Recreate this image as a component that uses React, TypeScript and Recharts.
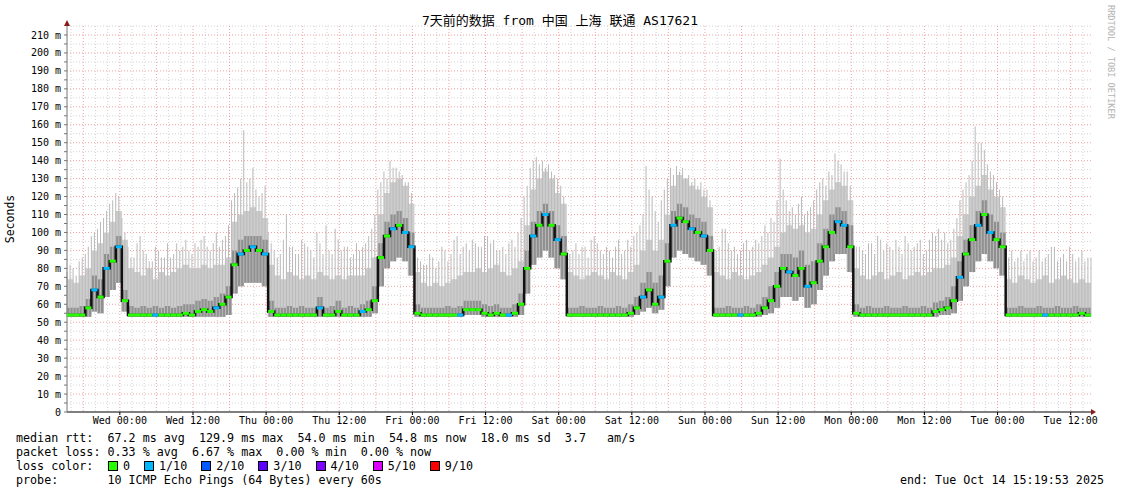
import React from 'react';
import { ComposedChart, Area, Bar, Line, XAxis, YAxis, CartesianGrid } from 'recharts';

const MONO = "'DejaVu Sans Mono', 'Noto Sans CJK SC', monospace";

// hourly samples (ms), hour 0 = Tue Oct 7 15:19:53
const median = [
  54, 54, 54, 58, 68, 64, 80, 84, 92, 62, 54, 54, 54, 54, 54, 54, 54, 54, 54, 55, 54, 56, 57, 56,
  58, 60, 64, 82, 88, 90, 92, 90, 88, 56, 54, 54, 54, 54, 54, 54, 54, 58, 54, 54, 56, 54, 54, 54,
  56, 57, 62, 86, 98, 102, 104, 100, 92, 55, 54, 54, 54, 54, 54, 54, 54, 57, 57, 57, 55, 54, 55, 54,
  54, 55, 60, 80, 98, 104, 110, 104, 96, 88, 54, 54, 54, 54, 54, 54, 54, 54, 54, 54, 55, 58, 64, 68,
  60, 64, 84, 104, 108, 106, 102, 100, 98, 90, 54, 54, 54, 54, 54, 54, 54, 55, 58, 62, 70, 80, 78, 76,
  80, 70, 72, 84, 92, 100, 106, 104, 92, 55, 54, 54, 54, 54, 54, 54, 54, 54, 54, 54, 54, 54, 56, 57,
  58, 62, 75, 88, 96, 104, 110, 100, 96, 92, 54, 54, 54, 54, 54, 54, 54, 54, 54, 54, 54, 54, 55, 54,
];
const smokeLow = [
  53, 53, 53, 53, 56, 55, 64, 68, 72, 56, 53, 53, 53, 53, 53, 53, 53, 53, 53, 53, 53, 53, 53, 53,
  53, 53, 54, 66, 70, 72, 72, 72, 70, 53, 53, 53, 53, 53, 53, 53, 53, 53, 53, 53, 53, 53, 53, 53,
  53, 53, 55, 70, 80, 84, 86, 84, 76, 53, 53, 53, 53, 53, 53, 53, 53, 54, 54, 54, 53, 53, 53, 53,
  53, 53, 54, 66, 82, 86, 90, 86, 80, 74, 53, 53, 53, 53, 53, 53, 53, 53, 53, 53, 53, 54, 56, 58,
  55, 57, 70, 86, 90, 88, 86, 84, 82, 76, 53, 53, 53, 53, 53, 53, 53, 53, 54, 55, 58, 64, 64, 62,
  64, 58, 60, 68, 76, 84, 88, 88, 78, 53, 53, 53, 53, 53, 53, 53, 53, 53, 53, 53, 53, 53, 53, 54,
  54, 55, 62, 70, 78, 84, 88, 84, 80, 76, 53, 53, 53, 53, 53, 53, 53, 53, 53, 53, 53, 53, 53, 53,
];
const smokeMid = [
  58, 58, 59, 63, 76, 74, 88, 92, 98, 68, 59, 58, 59, 58, 59, 58, 59, 58, 59, 60, 60, 62, 63, 62,
  64, 66, 70, 90, 96, 98, 98, 98, 96, 62, 58, 58, 59, 58, 59, 58, 58, 64, 58, 59, 62, 58, 59, 58,
  60, 62, 70, 94, 106, 110, 112, 108, 100, 60, 58, 58, 58, 58, 59, 58, 59, 62, 62, 62, 60, 59, 60, 58,
  58, 60, 66, 90, 106, 112, 116, 112, 104, 98, 58, 58, 59, 58, 58, 59, 58, 58, 59, 58, 60, 64, 72, 78,
  72, 76, 94, 112, 116, 114, 110, 108, 106, 98, 58, 58, 59, 58, 58, 59, 58, 60, 64, 70, 78, 88, 88, 86,
  90, 82, 84, 94, 102, 110, 114, 112, 104, 60, 58, 59, 58, 58, 59, 58, 58, 59, 58, 58, 59, 58, 61, 62,
  64, 70, 84, 96, 104, 112, 118, 110, 106, 100, 58, 58, 59, 58, 58, 59, 58, 58, 59, 58, 58, 59, 58, 58,
];
const smokeHigh = [
  74, 72, 76, 80, 90, 94, 100, 106, 112, 96, 80, 78, 76, 80, 74, 78, 76, 78, 80, 82, 80, 80, 82, 80,
  82, 82, 86, 106, 110, 112, 114, 112, 108, 82, 76, 74, 78, 76, 74, 76, 74, 78, 76, 74, 76, 74, 76, 76,
  76, 80, 86, 110, 122, 128, 130, 126, 116, 78, 72, 70, 72, 70, 72, 74, 76, 78, 78, 80, 78, 80, 82, 78,
  76, 80, 84, 104, 124, 130, 134, 130, 122, 116, 78, 76, 74, 76, 78, 76, 74, 78, 76, 74, 78, 82, 90, 96,
  90, 96, 110, 126, 132, 130, 126, 124, 120, 114, 78, 76, 74, 78, 76, 74, 76, 78, 82, 86, 92, 100, 104, 102,
  104, 100, 102, 110, 118, 124, 128, 126, 118, 80, 76, 74, 76, 78, 74, 76, 78, 74, 76, 78, 76, 78, 80, 80,
  82, 86, 98, 110, 120, 126, 132, 124, 120, 114, 74, 72, 76, 74, 72, 74, 76, 72, 74, 76, 74, 72, 74, 72,
];
// tallest single ping, on the hour and on the half hour
const smokeSpike = [
  78, 80, 84, 88, 98, 102, 108, 116, 122, 108, 92, 86, 98, 88, 84, 90, 86, 86, 94, 92, 90, 94, 96, 92,
  94, 92, 98, 118, 125, 157, 130, 124, 122, 100, 90, 88, 110, 92, 88, 94, 90, 100, 88, 90, 102, 90, 92, 88,
  90, 94, 102, 124, 134, 140, 136, 132, 128, 90, 84, 82, 86, 84, 90, 88, 98, 92, 90, 94, 92, 98, 96, 90,
  88, 96, 100, 120, 136, 142, 140, 138, 132, 126, 92, 90, 88, 92, 96, 94, 88, 90, 92, 88, 96, 98, 104, 137,
  120, 106, 124, 136, 137, 136, 132, 130, 128, 124, 96, 92, 102, 90, 88, 94, 90, 96, 98, 100, 106, 141, 118, 114,
  116, 110, 114, 124, 130, 134, 144, 138, 134, 96, 92, 88, 94, 98, 90, 92, 96, 88, 94, 92, 96, 90, 100, 102,
  100, 96, 108, 124, 132, 159, 150, 138, 132, 124, 88, 90, 86, 84, 90, 86, 84, 88, 92, 86, 84, 88, 86, 84,
];
const smokeSpikeHalf = [
  82, 76, 86, 92, 100, 106, 112, 118, 120, 100, 86, 94, 90, 84, 92, 86, 94, 88, 90, 96, 88, 92, 98, 90,
  100, 96, 104, 122, 130, 128, 136, 120, 126, 94, 86, 96, 92, 88, 96, 92, 86, 94, 104, 88, 96, 92, 86, 94,
  92, 98, 110, 128, 130, 136, 134, 128, 122, 86, 82, 88, 80, 92, 84, 96, 88, 94, 96, 92, 98, 94, 90, 92,
  94, 92, 108, 126, 140, 138, 136, 134, 130, 120, 88, 94, 92, 86, 98, 90, 92, 86, 96, 90, 92, 100, 110, 124,
  112, 118, 130, 132, 134, 130, 128, 126, 124, 118, 90, 102, 94, 92, 90, 96, 92, 94, 104, 108, 118, 124, 112, 110,
  120, 112, 118, 128, 126, 132, 140, 134, 126, 92, 90, 94, 88, 96, 94, 90, 92, 98, 90, 94, 88, 96, 98, 96,
  94, 102, 118, 128, 140, 150, 146, 134, 128, 120, 86, 84, 90, 88, 84, 90, 86, 92, 84, 88, 92, 84, 90, 86,
];
// hours where 1/10 pings were lost
const lossHours = [4, 6, 8, 14, 24, 28, 30, 32, 41, 48, 53, 55, 56, 64, 72, 76, 78, 80, 94, 97, 99, 102, 104, 110, 118, 121, 126, 127, 146, 149, 151, 160];

const dayTicks = [
  'Wed 00:00', 'Wed 12:00', 'Thu 00:00', 'Thu 12:00', 'Fri 00:00', 'Fri 12:00', 'Sat 00:00',
  'Sat 12:00', 'Sun 00:00', 'Sun 12:00', 'Mon 00:00', 'Mon 12:00', 'Tue 00:00', 'Tue 12:00',
];
const firstMidnight = 8.668; // hours from start to Wed 00:00

const labelHours = dayTicks.map((_, i) => firstMidnight + 12 * i);
const yTicks = Array.from({ length: 43 }, (_, i) => i * 5);
const hMajor = Array.from({ length: 21 }, (_, i) => (i + 1) * 10);
const hMinor = Array.from({ length: 22 }, (_, i) => i * 10 + 5);
const vMajor = Array.from({ length: 28 }, (_, i) => firstMidnight - 6 + 6 * i);
const vMinor = Array.from({ length: 84 }, (_, i) => firstMidnight - 8 + 2 * i).filter(
  (h) => h > 0 && h < 168 && Math.round((h - firstMidnight) / 2) % 3 !== 0
);

// half-hour rows, hourly values repeated, spikes alternate
const rows: any[] = [];
median.forEach((m, i) => {
  [0, 1].forEach((half) => {
    rows.push({
      t: i + half / 2,
      half,
      med: m,
      light: [smokeLow[i], smokeHigh[i]],
      dark: [smokeLow[i], smokeMid[i]],
      spike: [smokeLow[i], half ? smokeSpikeHalf[i] : smokeSpike[i]],
      loss: lossHours.includes(i) ? 1 : 0,
    });
  });
});
rows.push({ ...rows[rows.length - 1], t: 168, end: true });

const Dash = (p: any) => {
  if (p.payload?.end || p.payload?.half || p.cx == null) return <g key={`d${p.index}`} />;
  return (
    <rect
      key={`d${p.index}`}
      x={p.cx}
      y={p.cy - 1.5}
      width={6.1}
      height={3}
      fill={p.payload.loss ? '#00b8ff' : '#26ff00'}
    />
  );
};

const lossColors = [
  { label: '0', color: '#26ff00' },
  { label: '1/10', color: '#00b8ff' },
  { label: '2/10', color: '#0059ff' },
  { label: '3/10', color: '#5e00ff' },
  { label: '4/10', color: '#7e00ff' },
  { label: '5/10', color: '#dd00ff' },
  { label: '9/10', color: '#ff0000' },
];

const rowStyle: React.CSSProperties = {
  position: 'absolute',
  left: 16,
  fontFamily: MONO,
  fontSize: 11.7,
  whiteSpace: 'pre',
  lineHeight: '14px',
  color: '#000',
};

export default function App() {
  return (
    <div style={{ position: 'absolute', left: 0, top: 0, width: 1121, height: 494, background: '#fff' }}>
      <ComposedChart
        width={1121}
        height={494}
        data={rows}
        margin={{ top: 26, right: 30, bottom: 62, left: 7 }}
      >
        <CartesianGrid stroke="#d4d4d4" strokeDasharray="1 2" horizontalValues={hMinor} verticalValues={vMinor} />
        <CartesianGrid stroke="#f2a0a0" strokeDasharray="1 2" horizontalValues={hMajor} verticalValues={vMajor} />
        <XAxis
          dataKey="t"
          type="number"
          domain={[0, 168]}
          ticks={labelHours}
          interval={0}
          tickFormatter={(v: number) => dayTicks[Math.round((v - firstMidnight) / 12)]}
          tick={{ fontFamily: MONO, fontSize: 10, fill: '#000' }}
          tickSize={3}
          tickMargin={2}
          height={20}
          axisLine={{ stroke: '#000' }}
          tickLine={{ stroke: '#000' }}
        />
        <YAxis
          type="number"
          domain={[0, 215]}
          ticks={yTicks}
          interval={0}
          width={60}
          tickFormatter={(v: number) => (v % 10 ? '' : v === 0 ? '0' : `${v} m`)}
          tick={{ fontFamily: MONO, fontSize: 10, fill: '#000' }}
          tickSize={3}
          tickMargin={3}
          axisLine={{ stroke: '#777' }}
          tickLine={{ stroke: '#777' }}
        />
        <Area type="stepAfter" dataKey="light" fill="#cdcdcd" fillOpacity={1} stroke="none" isAnimationActive={false} />
        <Bar dataKey="spike" barSize={1} fill="#bababa" isAnimationActive={false} />
        <Area type="stepAfter" dataKey="dark" fill="#909090" fillOpacity={1} stroke="none" isAnimationActive={false} />
        <Line type="stepAfter" dataKey="med" stroke="#111" strokeWidth={2.5} dot={false} isAnimationActive={false} />
        <Line type="stepAfter" dataKey="med" stroke="transparent" dot={Dash} activeDot={false} isAnimationActive={false} />
      </ComposedChart>

      <svg width={1121} height={494} style={{ position: 'absolute', left: 0, top: 0, pointerEvents: 'none' }}>
        <text x={560} y={25} textAnchor="middle" fontFamily={MONO} fontSize={13} fill="#000">
          7天前的数据 from 中国 上海 联通 AS17621
        </text>
        <text x={14} y={219} textAnchor="middle" fontFamily={MONO} fontSize={11.5} fill="#000" transform="rotate(-90 14 219)">
          Seconds
        </text>
        <text x={1108} y={5} fontFamily={MONO} fontSize={8.6} fill="#b4b4b4" transform="rotate(90 1108 5)">
          RRDTOOL / TOBI OETIKER
        </text>
        <polygon points="64,26 70,26 67,20" fill="#8b1a1a" />
        <polygon points="1091,409 1091,415 1096,412" fill="#8b1a1a" />
      </svg>

      <div style={{ ...rowStyle, top: 431 }}>
        {'median rtt:  67.2 ms avg  129.9 ms max  54.0 ms min  54.8 ms now  18.0 ms sd  3.7   am/s'}
      </div>
      <div style={{ ...rowStyle, top: 445 }}>
        {'packet loss: 0.33 % avg  6.67 % max  0.00 % min  0.00 % now'}
      </div>
      <div style={{ ...rowStyle, top: 459, display: 'flex', alignItems: 'center' }}>
        <span style={{ width: 92 }}>{'loss color:'}</span>
        {lossColors.map((c) => (
          <span key={c.label} style={{ display: 'inline-flex', alignItems: 'center', marginRight: 14 }}>
            <span
              style={{
                display: 'inline-block',
                width: 8,
                height: 8,
                background: c.color,
                border: '1px solid #000',
                marginRight: 5,
              }}
            />
            {c.label}
          </span>
        ))}
      </div>
      <div style={{ ...rowStyle, top: 473 }}>{'probe:       10 ICMP Echo Pings (64 Bytes) every 60s'}</div>
      <div style={{ ...rowStyle, top: 473, left: 'auto', right: 17 }}>{'end: Tue Oct 14 15:19:53 2025'}</div>
    </div>
  );
}
